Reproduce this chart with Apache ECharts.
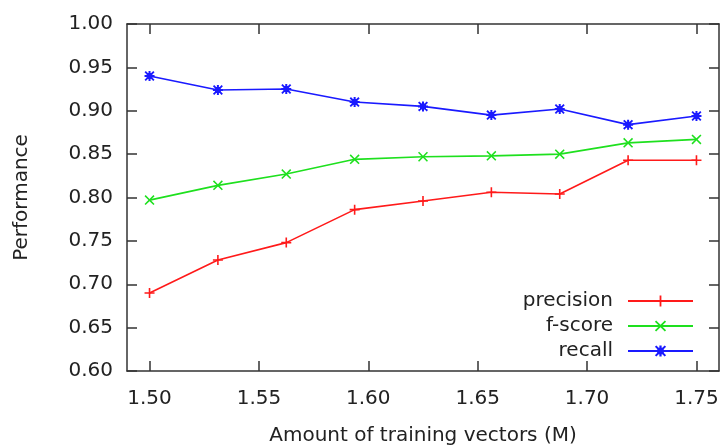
<!DOCTYPE html>
<html>
<head>
<meta charset="utf-8">
<script src="https://cdn.jsdelivr.net/npm/echarts@6/dist/echarts.min.js"></script>
<style>
html,body{margin:0;padding:0;background:#fff;}
#chart{width:724px;height:445px;}
</style>
</head>
<body>
<div id="chart"></div>
<script>
var xValues = [1.50, 1.53125, 1.5625, 1.59375, 1.625, 1.65625, 1.6875, 1.71875, 1.75];
var precision = [0.690, 0.728, 0.748, 0.786, 0.796, 0.806, 0.804, 0.843, 0.843];
var fscore = [0.797, 0.814, 0.827, 0.844, 0.847, 0.848, 0.850, 0.863, 0.867];
var recall = [0.940, 0.924, 0.925, 0.910, 0.905, 0.895, 0.902, 0.884, 0.894];
var xTicks = [1.50, 1.55, 1.60, 1.65, 1.70, 1.75];
var yTicks = [0.60, 0.65, 0.70, 0.75, 0.80, 0.85, 0.90, 0.95, 1.00];
var seriesNames = ['precision', 'f-score', 'recall'];

var FONT = 'DejaVu Sans';
var TXT = '#222';
var AX = '#333';
var plusPath = 'path://M4.2,0H5.8V4.2H10V5.8H5.8V10H4.2V5.8H0V4.2H4.2Z';
var crossPath = 'path://M0,1.1L1.1,0L5,3.9L8.9,0L10,1.1L6.1,5L10,8.9L8.9,10L5,6.1L1.1,10L0,8.9L3.9,5Z';
var starPath = 'path://M4,0H6V4H10V6H6V10H4V6H0V4H4Z M0,1.3L1.3,0L5,3.7L8.7,0L10,1.3L6.3,5L10,8.7L8.7,10L5,6.3L1.3,10L0,8.7L3.7,5Z M2,2H8V8H2Z';

function pairs(ys) { return xValues.map(function (x, i) { return [x, ys[i]]; }); }

var xMin = 1.4897, xMax = 1.7603;

function xAxisBase(pos, showLabel) {
  return {
    type: 'value', position: pos, min: xMin, max: xMax,
    splitLine: { show: false },
    axisLine: { show: true, onZero: false, lineStyle: { color: AX, width: 1.5 } },
    axisTick: { show: true, inside: true, length: 10, customValues: xTicks, lineStyle: { color: AX, width: 1.5 } },
    axisLabel: { show: showLabel, customValues: xTicks, margin: 18, fontFamily: FONT, fontSize: 20, color: TXT,
      formatter: function (v) { return v.toFixed(2); } }
  };
}
function yAxisBase(pos, showLabel) {
  return {
    type: 'value', position: pos, min: 0.6, max: 1.0,
    splitLine: { show: false },
    axisLine: { show: true, onZero: false, lineStyle: { color: AX, width: 1.5 } },
    axisTick: { show: true, inside: true, length: 10, customValues: yTicks, lineStyle: { color: AX, width: 1.5 } },
    axisLabel: { show: showLabel, customValues: yTicks, margin: 14, fontFamily: FONT, fontSize: 20, color: TXT,
      formatter: function (v) { return v.toFixed(2); } }
  };
}

var xa = xAxisBase('bottom', true);
xa.name = 'Amount of training vectors (M)';
xa.nameLocation = 'middle';
xa.nameGap = 55;
xa.nameTextStyle = { fontFamily: FONT, fontSize: 20, color: TXT };
var ya = yAxisBase('left', true);
ya.name = 'Performance';
ya.nameLocation = 'middle';
ya.nameGap = 95;
ya.nameTextStyle = { fontFamily: FONT, fontSize: 20, color: TXT };

function lineSeries(name, data, color, sym, size) {
  return {
    name: name, type: 'line', data: pairs(data),
    symbol: sym, symbolSize: size,
    showAllSymbol: true,
    lineStyle: { color: color, width: 1.6 },
    itemStyle: { color: color, borderWidth: 0 },
    animation: false
  };
}

var chart = echarts.init(document.getElementById('chart'));
chart.setOption({
  backgroundColor: '#fff',
  animation: false,
  grid: { left: 127, right: 5, top: 24, bottom: 74, containLabel: false, outerBoundsMode: 'none' },
  xAxis: [xa, xAxisBase('top', false)],
  yAxis: [ya, yAxisBase('right', false)],
  legend: {
    data: seriesNames,
    orient: 'vertical',
    align: 'right',
    right: 25,
    top: 286,
    itemWidth: 65,
    itemHeight: 14,
    itemGap: 5,
    textStyle: { fontFamily: FONT, fontSize: 20, color: TXT, lineHeight: 20, padding: [0, 10, 0, 0] }
  },
  series: [
    lineSeries(seriesNames[0], precision, '#ff1a1a', plusPath, 10),
    lineSeries(seriesNames[1], fscore, '#1ee01e', crossPath, 10),
    lineSeries(seriesNames[2], recall, '#1a1aff', starPath, 10)
  ]
});
</script>
</body>
</html>
